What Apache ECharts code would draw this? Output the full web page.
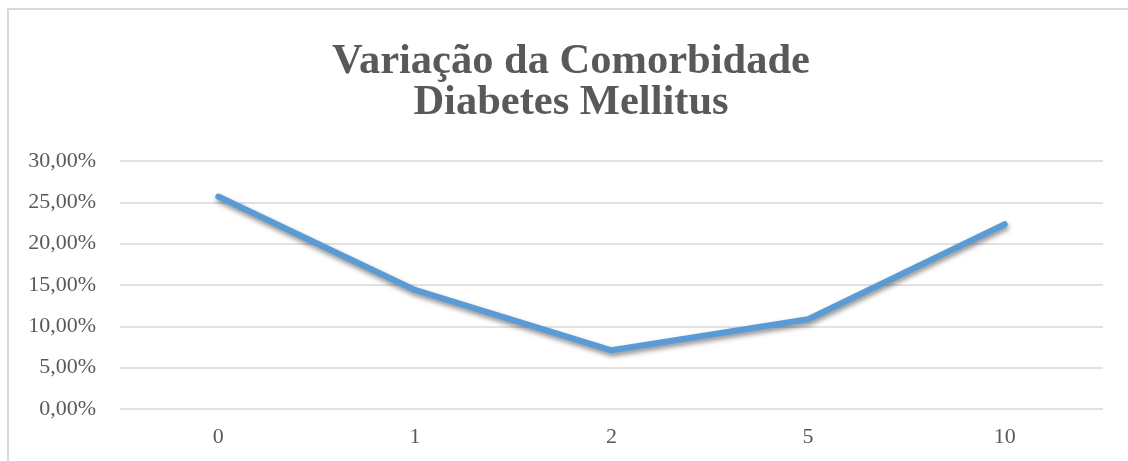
<!DOCTYPE html>
<html>
<head>
<meta charset="utf-8">
<script src="https://cdn.jsdelivr.net/npm/echarts@6/dist/echarts.min.js"></script>
<style>
  html, body { margin: 0; padding: 0; background: #fff; overflow: hidden; }
  #frame { position: absolute; left: 7px; top: 8px; width: 1200px; height: 500px;
           border-left: 2px solid #d9d9d9; border-top: 2px solid #d9d9d9; }
  #chart { position: absolute; left: 0; top: 0; width: 1128px; height: 461px; }
</style>
</head>
<body>
<div id="frame"></div>
<div id="chart"></div>
<script>
// categorias do eixo x
const categories = ['0', '1', '2', '5', '10'];
// valores em %
const diabetes = [25.7, 14.4, 7.1, 10.85, 22.35];

const titleText = 'Variação da Comorbidade\nDiabetes Mellitus';

const chart = echarts.init(document.getElementById('chart'));

const options = {
  animation: false,
  title: {
    text: titleText,
    left: 566,
    textAlign: 'center',
    top: 37,
    textStyle: {
      fontFamily: 'Liberation Serif',
      fontWeight: 'bold',
      fontSize: 42.5,
      lineHeight: 41,
      color: '#595959'
    }
  },
  grid: {
    left: 120,
    right: 25,
    top: 161,
    bottom: 52
  },
  xAxis: {
    type: 'category',
    data: categories,
    boundaryGap: true,
    axisLine: { show: false },
    axisTick: { show: false },
    axisLabel: {
      fontFamily: 'Liberation Serif',
      fontSize: 22,
      color: '#595959',
      margin: 17
    }
  },
  yAxis: {
    type: 'value',
    min: 0,
    max: 30,
    interval: 5,
    axisLine: { show: false },
    axisTick: { show: false },
    splitLine: {
      lineStyle: { color: '#d9d9d9', width: 1.5 }
    },
    axisLabel: {
      fontFamily: 'Liberation Serif',
      fontSize: 22,
      color: '#595959',
      margin: 24,
      formatter: (v) => v.toFixed(2).replace('.', ',') + '%'
    }
  },
  series: [
    {
      type: 'line',
      data: diabetes,
      symbol: 'none',
      lineStyle: {
        color: '#5b9bd5',
        width: 6,
        cap: 'round',
        join: 'round',
        shadowColor: 'rgba(0,0,0,0.45)',
        shadowBlur: 5,
        shadowOffsetX: 1,
        shadowOffsetY: 3
      }
    }
  ]
};

chart.setOption(options);
</script>
</body>
</html>
